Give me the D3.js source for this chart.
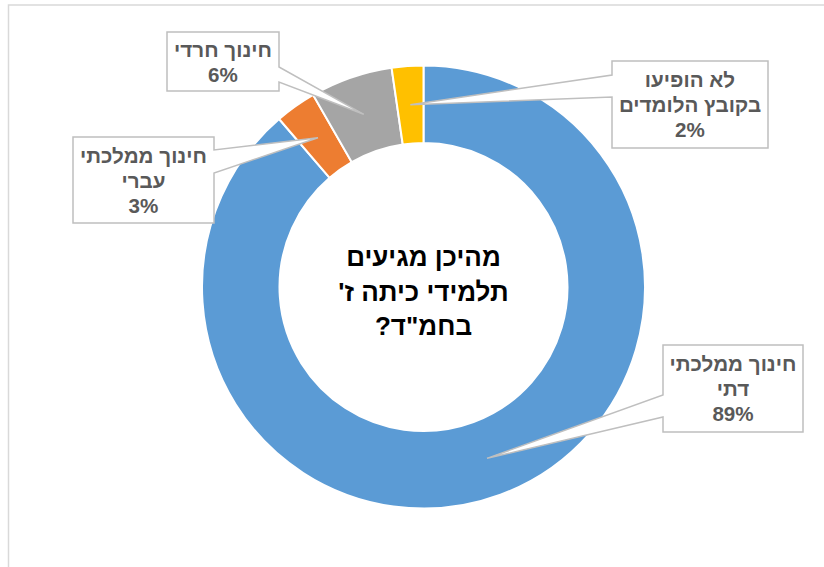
<!DOCTYPE html>
<html><head><meta charset="utf-8">
<script src="https://cdn.jsdelivr.net/npm/d3@7"></script>
<style>html,body{margin:0;padding:0;background:#fff;}svg{display:block;}</style>
</head><body>
<svg id="chart" width="824" height="567"></svg>
<script>
const categories = ["חינוך ממלכתי דתי", "חינוך ממלכתי עברי", "חינוך חרדי", "לא הופיעו בקובץ הלומדים"];
const values = [88.7, 3.0, 6.0, 2.3];
const percentLabels = ["89%", "3%", "6%", "2%"];
const labelLines = [["חינוך ממלכתי", "דתי"], ["חינוך ממלכתי", "עברי"], ["חינוך חרדי"], ["לא הופיעו", "בקובץ הלומדים"]];
const colors = ["#5B9BD5", "#ED7D31", "#A5A5A5", "#FFC000"];
const titleLines = ["מהיכן מגיעים", "תלמידי כיתה ז'", "בחמ\"ד?"];

const svg = d3.select("#chart");
const W = 824, H = 567;
svg.append("rect").attr("width", W).attr("height", H).attr("fill", "#fff");
svg.append("rect").attr("x", 8.5).attr("y", 5).attr("width", W + 20).attr("height", H + 20)
  .attr("fill", "none").attr("stroke", "#d9d9d9").attr("stroke-width", 1.5);

const cx = 423.5, cy = 287, rOut = 221.5, rIn = 144;
const g = svg.append("g").attr("transform", `translate(${cx},${cy})`);
const pie = d3.pie().sort(null).value(d => d)(values);
const arc = d3.arc().innerRadius(rIn).outerRadius(rOut);
g.selectAll("path.slice").data(pie).enter().append("path")
  .attr("class", "slice").attr("d", arc)
  .attr("fill", (d, i) => colors[i]).attr("stroke", "#fff").attr("stroke-width", 2);

// callout box layout (page coordinates)
const boxes = [
  {x: 663, y: 345, w: 140, h: 87, side: "left", b0: 395, b1: 417},
  {x: 73, y: 137, w: 141, h: 86, side: "right", b0: 150, b1: 173},
  {x: 167, y: 32, w: 112, h: 59, side: "right", b0: 67, b1: 82},
  {x: 612, y: 61, w: 156, h: 87, side: "left", b0: 75, b1: 97}
];

const lab = svg.append("g");
pie.forEach((d, i) => {
  const b = boxes[i];
  const c = arc.centroid(d);
  const tx = cx + c[0], ty = cy + c[1];
  const p = d3.path();
  const x0 = b.x, x1 = b.x + b.w, y0 = b.y, y1 = b.y + b.h;
  p.moveTo(x0, y0);
  p.lineTo(x1, y0);
  if (b.side === "right") {
    p.lineTo(x1, b.b0); p.lineTo(tx, ty); p.lineTo(x1, b.b1);
  }
  p.lineTo(x1, y1);
  p.lineTo(x0, y1);
  if (b.side === "left") {
    p.lineTo(x0, b.b1); p.lineTo(tx, ty); p.lineTo(x0, b.b0);
  }
  p.closePath();
  lab.append("path").attr("d", p.toString())
    .attr("fill", "#fff").attr("stroke", "#bfbfbf").attr("stroke-width", 1.5)
    .attr("stroke-linejoin", "miter");
  const lines = labelLines[i].concat([percentLabels[i]]);
  const lh = 25;
  const mid = b.y + b.h / 2;
  const t = lab.append("text")
    .attr("direction", "rtl")
    .attr("text-anchor", "middle")
    .attr("font-family", "Liberation Sans, Arial, sans-serif")
    .attr("font-weight", "bold").attr("font-size", 20.6).attr("fill", "#595959");
  lines.forEach((s, k) => {
    t.append("tspan").attr("x", b.x + b.w / 2)
      .attr("y", mid + (k - (lines.length - 1) / 2) * lh + 7.5)
      .text(s);
  });
});

const tt = svg.append("text")
  .attr("direction", "rtl").attr("text-anchor", "middle")
  .attr("font-family", "Liberation Sans, Arial, sans-serif")
  .attr("font-weight", "bold").attr("font-size", 26).attr("fill", "#000");
titleLines.forEach((s, k) => {
  tt.append("tspan").attr("x", cx).attr("y", 291 + (k - 1) * 34.5 + 9.5).text(s);
});
</script>
</body></html>
